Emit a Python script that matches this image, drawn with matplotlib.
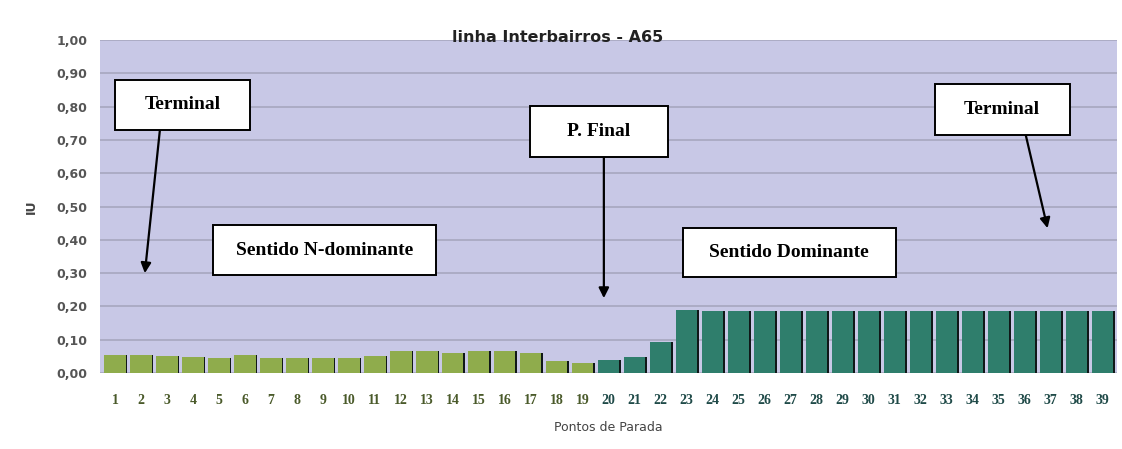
import numpy as np
import matplotlib.pyplot as plt
from matplotlib.patches import Rectangle

# dados
pontos = list(range(1, 40))
iu = [0.055, 0.055, 0.050, 0.048, 0.045, 0.055, 0.045, 0.045, 0.045, 0.045,
      0.050, 0.066, 0.066, 0.060, 0.066, 0.066, 0.060, 0.035, 0.030, 0.040,
      0.048, 0.093, 0.190, 0.185, 0.185, 0.185, 0.185, 0.185, 0.185, 0.185,
      0.185, 0.185, 0.185, 0.185, 0.185, 0.185, 0.185, 0.185, 0.185]
n_nao_dominante = 19  # pontos 1-19 em verde, 20-39 em verde-azulado
y_ticks = [0.0, 0.1, 0.2, 0.3, 0.4, 0.5, 0.6, 0.7, 0.8, 0.9, 1.0]

verde = '#8fac4c'
teal = '#2f7e6c'
cores = [verde if p <= n_nao_dominante else teal for p in pontos]
cores_tick = ['#4a5a2a' if p <= n_nao_dominante else '#1f4a48' for p in pontos]

fig = plt.figure(figsize=(11.22, 4.49), dpi=100)
ax = fig.add_axes([0.089, 0.169, 0.9065, 0.742])
ax.set_facecolor('#c8c8e6')

x = np.array(pontos)
y = np.array(iu)
# sombra escura (efeito 3D)
ax.bar(x + 0.40, y, width=0.16, color='#101818', zorder=2)
ax.bar(x, y, width=0.82, color=cores, zorder=3)

ax.set_xlim(0.42, 39.55)
ax.set_ylim(0, 1.0)
ax.set_yticks(y_ticks)
ax.set_yticklabels([f'{v:.2f}'.replace('.', ',') for v in y_ticks],
                   fontsize=9, fontweight='bold', color='#555555')
ax.set_xticks(pontos)
ax.set_xticklabels([str(p) for p in pontos], family='Liberation Serif',
                   fontsize=10, fontweight='bold')
for lbl, c in zip(ax.get_xticklabels(), cores_tick):
    lbl.set_color(c)
ax.tick_params(axis='x', length=0, pad=15)
ax.tick_params(axis='y', length=0, pad=9)
ax.grid(axis='y', color='#a4a4bc', linewidth=1.1, zorder=0)
ax.set_axisbelow(True)
for s in ax.spines.values():
    s.set_visible(False)

ax.set_xlabel('Pontos de Parada', fontsize=9, color='#444444', labelpad=10)
ax.set_ylabel('IU', fontsize=9, fontweight='bold', color='#444444', labelpad=13)
fig.text(0.497, 0.917, 'linha Interbairros - A65', fontsize=11.5,
         fontweight='bold', color='#222222', ha='center', va='center',
         zorder=8)

fonte = dict(family='Liberation Serif', fontsize=14, fontweight='bold',
             ha='center', va='center', zorder=7)
seta = dict(arrowstyle='-|>', color='black', lw=1.6, mutation_scale=15,
            shrinkA=0, shrinkB=0)

# caixas de texto: (texto, x0, x1, y0, y1)
caixas = [
    ('Terminal', 1.0, 6.19, 0.73, 0.88),
    ('Sentido N-dominante', 4.77, 13.35, 0.294, 0.444),
    ('P. Final', 16.96, 22.27, 0.649, 0.802),
    ('Sentido Dominante', 22.85, 31.04, 0.288, 0.435),
    ('Terminal', 32.54, 37.73, 0.715, 0.868),
]
for txt, x0, x1, y0, y1 in caixas:
    ax.add_patch(Rectangle((x0, y0), x1 - x0, y1 - y0, fc='white', ec='black',
                           lw=1.4, zorder=6))
    ax.text((x0 + x1) / 2, (y0 + y1) / 2, txt, **fonte)

# setas: (origem, destino)
setas = [
    ((2.73, 0.73), (2.15, 0.30)),
    ((19.81, 0.649), (19.81, 0.225)),
    ((36.04, 0.715), (36.88, 0.435)),
]
for ini, fim in setas:
    ax.annotate('', xy=fim, xytext=ini, arrowprops=seta, zorder=5)

fig.savefig('out.png', dpi=100)
